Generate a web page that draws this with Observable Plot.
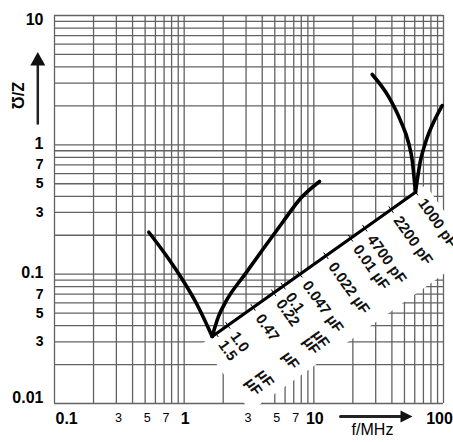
<!DOCTYPE html>
<html><head><meta charset="utf-8">
<script src="https://cdn.jsdelivr.net/npm/d3@7"></script>
<script src="https://cdn.jsdelivr.net/npm/@observablehq/plot@0.6"></script>
<style>body{margin:0;background:#fff}</style>
</head><body><div id="chart"></div>
<script>
// ---- data ----
const xGrid = [0.1,0.2,0.3,0.4,0.5,0.6,0.7,0.8,0.9,1,2,3,4,5,6,7,8,9,10,20,30,40,50,60,70,80,90,100];
const yGrid = [0.01,0.02,0.03,0.04,0.05,0.06,0.07,0.08,0.09,0.1,0.2,0.3,0.4,0.5,0.6,0.7,0.8,0.9,1,2,3,4,5,6,7,8,9,10];
const xMajorTicks = [0.1, 1, 10, 100];
const xMajorLabels = ["0.1", "1", "10", "100"];
const xMinorTicks = [0.3, 0.5, 0.7, 3, 5, 7];
const xMinorLabels = ["3", "5", "7", "3", "5", "7"];
const yMajorTicks = [10, 1, 0.1, 0.01];
const yMajorLabels = ["10", "1", "0.1", "0.01"];
const yMinorTicks = [0.7, 0.5, 0.3, 0.07, 0.05, 0.03];
const yMinorLabels = ["7", "5", "3", "7", "5", "3"];

// impedance curves (f in MHz, Z in ohm)
const v1LeftF  = [0.534, 0.718, 0.937, 1.245, 1.645];
const v1LeftZ  = [0.211, 0.142, 0.0959, 0.0593, 0.033];
const v1RightF = [1.645, 1.84, 2.12, 2.97, 4.09, 5.73, 7.89, 11.06];
const v1RightZ = [0.033, 0.0471, 0.0626, 0.101, 0.158, 0.251, 0.385, 0.521];
const v2LeftF  = [28.2, 37.9, 46.6, 54.0, 57.4, 60.8];
const v2LeftZ  = [3.50, 2.34, 1.54, 1.02, 0.757, 0.430];
const v2RightF = [60.8, 66.5, 72.6, 83.7, 97.7];
const v2RightZ = [0.430, 0.757, 1.04, 1.49, 2.01];
// resonance line (minimum points)
const resF = [1.645, 60.8];
const resZ = [0.033, 0.430];
// capacitance labels along the resonance line
const capNum  = ["1000","2200","4700","0.01","0.022","0.047","0.1","0.22","0.47","1.0","1.5"];
const capUnit = ["pF","pF","pF","µF","µF","µF","µF","µF","µF","µF","µF"];
const capF    = [61, 39.4, 24.7, 19.2, 12.4, 7.8, 5.8, 4.9, 3.4, 2.17, 1.76];

// ---- layout ----
const W = 453, H = 442, ML = 54, MR = 10, MT = 15, MB = 39;
const xs = d3.scaleLog().domain([0.1, 100]).range([ML, W - MR]);
const ys = d3.scaleLog().domain([0.01, 10]).range([H - MB, MT]);
const A = [xs(resF[0]), ys(resZ[0])], B = [xs(resF[1]), ys(resZ[1])];
const dAx = B[0] - A[0], dAy = B[1] - A[1], LAB = Math.hypot(dAx, dAy);
const u = [dAx / LAB, dAy / LAB], nrm = [-u[1], u[0]];
const rot = Math.atan2(nrm[1], nrm[0]) * 180 / Math.PI;
const ptAt = (t, d) => [A[0] + t * dAx + d * nrm[0], A[1] + t * dAy + d * nrm[1]];
const tOf = f => (Math.log(f) - Math.log(resF[0])) / (Math.log(resF[1]) - Math.log(resF[0]));
const inv = p => ({x: xs.invert(p[0]), y: ys.invert(p[1])});

const zip = (F, Z) => F.map((f, i) => ({f, z: Z[i]}));
const resLine = zip(resF, resZ);

const band = [ptAt(-0.05, 0), ptAt(1.05, 0), ptAt(1.05, 83), ptAt(-0.05, 83)].map(inv);
const ticks = capF.map(f => { const t = tOf(f); const a = inv(ptAt(t, -4)), b = inv(ptAt(t, 4)); return {x1: a.x, y1: a.y, x2: b.x, y2: b.y}; });
const numLabels = capNum.map((s, i) => ({...inv(ptAt(tOf(capF[i]), 10)), text: i < 6 ? s + " " + capUnit[i] : s}));
const unitLabels = capNum.map((s, i) => ({...inv(ptAt(tOf(capF[i]), 56)), text: capUnit[i]})).slice(6);

// axis arrows
const yArrowX = ML - 16.7;
const yShaft = [inv([yArrowX, MT + 50]), inv([yArrowX, MT + 108])];
const yHead = [inv([yArrowX, MT + 36.5]), inv([yArrowX - 7.5, MT + 50]), inv([yArrowX + 7.5, MT + 50])];
const xArrowY = H - MB + 13;
const xShaft = [inv([W - MR - 103, xArrowY]), inv([W - MR - 42, xArrowY])];
const xHead = [inv([W - MR - 31, xArrowY]), inv([W - MR - 43, xArrowY - 6]), inv([W - MR - 43, xArrowY + 6])];

const font = "'Liberation Sans', Arial, sans-serif";
const gridC = "#626262";
const curveOpts = {x: "f", y: "z", stroke: "black", strokeWidth: 3.6, curve: "monotone-x", strokeLinecap: "round"};

const chart = Plot.plot({
  width: W, height: H,
  marginLeft: ML, marginRight: MR, marginTop: MT, marginBottom: MB,
  x: {type: "log", domain: [0.1, 100], axis: null},
  y: {type: "log", domain: [0.01, 10], axis: null},
  style: {fontFamily: font, background: "white", color: "black"},
  marks: [
    Plot.ruleX(xGrid, {stroke: gridC, strokeWidth: 1.3}),
    Plot.ruleY(yGrid, {stroke: gridC, strokeWidth: 1.3}),
    Plot.line(band, {x: "x", y: "y", fill: "white", stroke: "none"}),
    // curves
    Plot.line(zip(v1LeftF, v1LeftZ), curveOpts),
    Plot.line(zip(v1RightF, v1RightZ), curveOpts),
    Plot.line(zip(v2LeftF, v2LeftZ), curveOpts),
    Plot.line(zip(v2RightF, v2RightZ), curveOpts),
    Plot.line(resLine, {x: "f", y: "z", stroke: "black", strokeWidth: 3.2, strokeLinecap: "round"}),
    Plot.link(ticks, {x1: "x1", y1: "y1", x2: "x2", y2: "y2", stroke: "black", strokeWidth: 1}),
    // capacitance labels
    Plot.text(numLabels, {x: "x", y: "y", text: "text", rotate: rot, textAnchor: "start", fontSize: 15, fontWeight: "bold", fill: "#111"}),
    Plot.text(unitLabels, {x: "x", y: "y", text: "text", rotate: rot, textAnchor: "start", fontSize: 15, fontWeight: "bold", fill: "#111"}),
    // x tick labels
    Plot.text([xMajorTicks[0]], {x: d => d, frameAnchor: "bottom", text: () => xMajorLabels[0], textAnchor: "start", lineAnchor: "top", dy: 9, dx: 1, fontSize: 16, fontWeight: "bold"}),
    Plot.text(xMajorTicks.slice(1, 3), {x: d => d, frameAnchor: "bottom", text: (d, i) => xMajorLabels[i + 1], textAnchor: "middle", lineAnchor: "top", dy: 9, dx: 1, fontSize: 16, fontWeight: "bold"}),
    Plot.text([xMajorTicks[3]], {x: d => d, frameAnchor: "bottom", text: () => xMajorLabels[3], textAnchor: "middle", lineAnchor: "top", dy: 9, dx: -4, fontSize: 16, fontWeight: "bold"}),
    Plot.text(xMinorTicks, {x: d => d, frameAnchor: "bottom", text: (d, i) => xMinorLabels[i], textAnchor: "middle", lineAnchor: "top", dy: 10, dx: 2, fontSize: 12.5}),
    // y tick labels
    Plot.text([yMajorTicks[0]], {y: d => d, frameAnchor: "left", text: () => yMajorLabels[0], textAnchor: "end", dx: -11, dy: 4, fontSize: 16, fontWeight: "bold"}),
    Plot.text(yMajorTicks.slice(1, 3), {y: d => d, frameAnchor: "left", text: (d, i) => yMajorLabels[i + 1], textAnchor: "end", dx: -11, dy: -1, fontSize: 16, fontWeight: "bold"}),
    Plot.text([yMajorTicks[3]], {y: d => d, frameAnchor: "left", text: () => yMajorLabels[3], textAnchor: "end", dx: -11, dy: -5.5, fontSize: 16, fontWeight: "bold"}),
    Plot.text(yMinorTicks, {y: d => d, frameAnchor: "left", text: (d, i) => yMinorLabels[i], textAnchor: "end", dx: -11, fontSize: 14, fontWeight: "bold"}),
    // axis titles and arrows
    Plot.line(yShaft, {x: "x", y: "y", stroke: "#222", strokeWidth: 2.5}),
    Plot.line(yHead, {x: "x", y: "y", fill: "#111", stroke: "none"}),
    Plot.line(xShaft, {x: "x", y: "y", stroke: "#222", strokeWidth: 3}),
    Plot.line(xHead, {x: "x", y: "y", fill: "#111", stroke: "none"}),
    Plot.text(["Z/Ω"], {frameAnchor: "top-left", dx: -31.5, dy: 80, rotate: 90, text: d => d, fontSize: 16, fontWeight: "bold", textAnchor: "middle"}),
    Plot.text(["f/MHz"], {frameAnchor: "bottom-right", dx: -71, dy: 31, text: d => d, fontSize: 16, textAnchor: "middle"})
  ]
});
document.getElementById("chart").appendChild(chart);
</script>
</body></html>
